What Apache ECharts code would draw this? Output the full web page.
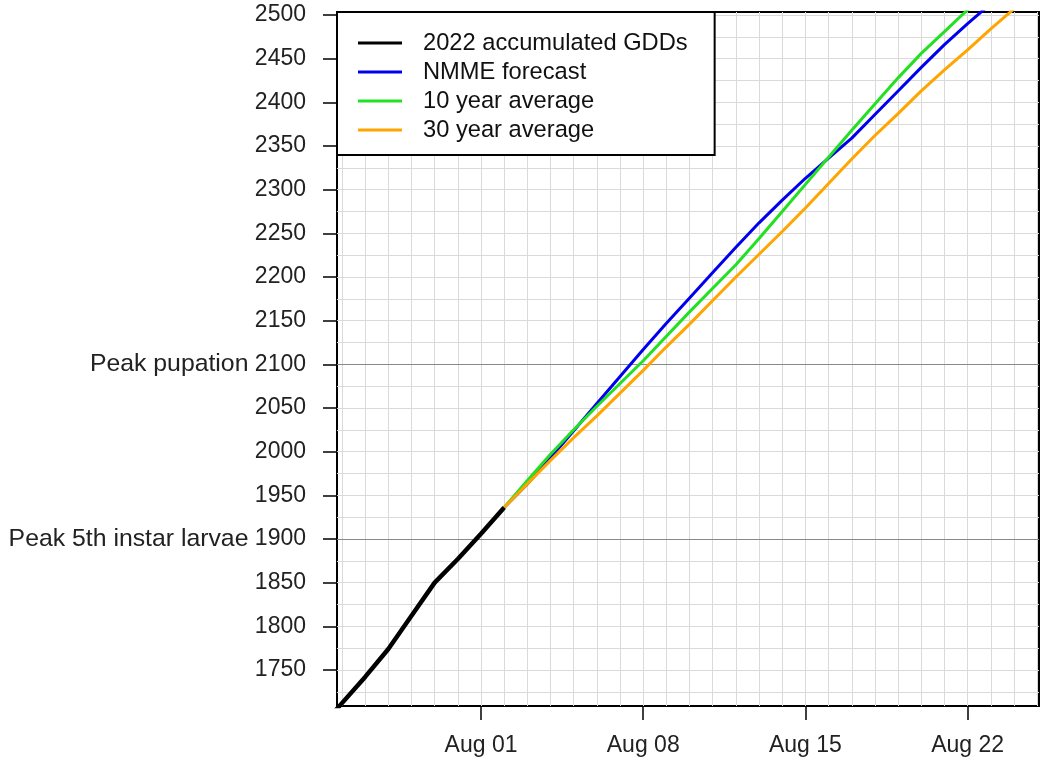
<!DOCTYPE html>
<html><head><meta charset="utf-8">
<script src="https://cdn.jsdelivr.net/npm/echarts@6/dist/echarts.min.js"></script>
<style>html,body{margin:0;padding:0;background:#fff}#c{width:1043px;height:765px}</style>
</head><body><div id="c"></div><script>
// ---- data ----
const observedDates = ['Jul 25','Jul 26','Jul 27','Jul 28','Jul 29','Jul 30','Jul 31','Aug 01','Aug 02'];
const observedGDD   = [1682, 1712, 1742, 1774, 1812, 1850, 1877, 1906, 1936];

const forecastDates = ['Aug 02','Aug 03','Aug 04','Aug 05','Aug 06','Aug 07','Aug 08','Aug 09','Aug 10','Aug 11','Aug 12','Aug 13',
                       'Aug 14','Aug 15','Aug 16','Aug 17','Aug 18','Aug 19','Aug 20','Aug 21','Aug 22','Aug 23','Aug 24','Aug 25'];
const nmmeGDD  = [1936,1963,1993,2024,2055,2086,2117,2147,2176,2205,2234,2262,2288,2313,2336,2359,2386,2413,2440,2466,2490,2513,2537,2561];
const avg10GDD = [1936,1967,1997,2025,2052,2078,2104,2132,2160,2187,2214,2244,2275,2306,2337,2368,2398,2428,2456,2481,2506,2532,2558,2584];
const avg30GDD = [1936,1963,1990,2016,2041,2067,2093,2120,2146,2173,2200,2226,2252,2279,2307,2335,2362,2387,2413,2437,2460,2484,2507,2531];

const seriesNames = ['2022 accumulated GDDs','NMME forecast','10 year average','30 year average'];
const seriesColors = ['#000000','#0000ee','#22e022','#ffa500'];

const yTicks = [1750,1800,1850,1900,1950,2000,2050,2100,2150,2200,2250,2300,2350,2400,2450,2500];
const thresholdValues = [1900, 2100];
const thresholdNames  = ['Peak 5th instar larvae', 'Peak pupation'];
const xTickDates = ['Aug 01','Aug 08','Aug 15','Aug 22'];

// ---- helpers ----
const MONTHS = {Jul: 6, Aug: 7};
const ORIGIN = Date.UTC(2022, 7, 1);
function toDay(s){ const p = s.split(' '); return (Date.UTC(2022, MONTHS[p[0]], +p[1]) - ORIGIN) / 86400000; }
function pairs(dates, vals){ return dates.map((d,i)=>[toDay(d), vals[i]]); }

const X_MIN = -6.215, X_MAX = 24.08, Y_MIN = 1708.7, Y_MAX = 2503.4;
const xTickDays = xTickDates.map(toDay);
const xLabelOf = {}; xTickDates.forEach(d => { xLabelOf[toDay(d)] = d; });
const yLabelOf = {}; thresholdValues.forEach((v,i)=>{ yLabelOf[v] = '{n|' + thresholdNames[i] + '} ' + v; });

// light background grid (every day, every 25 GDD)
const gridLines = [];
for (let d = Math.ceil(X_MIN); d <= Math.floor(X_MAX); d++) gridLines.push({xAxis: d});
for (let v = Math.ceil(Y_MIN/25)*25; v <= Y_MAX; v += 25) gridLines.push({yAxis: v});
thresholdValues.forEach(v => gridLines.push({yAxis: v, lineStyle: {color: '#8a8a8a', width: 1.2, type: 'solid'}}));

const FONT = '"Liberation Sans", Arial, sans-serif';
const chart = echarts.init(document.getElementById('c'), null, {renderer: 'canvas'});
chart.setOption({
  animation: false,
  backgroundColor: '#fff',
  grid: {left: 337, right: 4, top: 12, bottom: 59, show: true, borderColor: '#000', borderWidth: 2, backgroundColor: 'transparent'},
  legend: {
    data: seriesNames, orient: 'vertical', left: 337, top: 12, z: 10,
    padding: [19, 27, 13, 21], itemGap: 5, itemWidth: 44, itemHeight: 3, icon: 'rect',
    backgroundColor: '#fff', borderColor: '#000', borderWidth: 2, selectedMode: false,
    textStyle: {fontFamily: FONT, fontSize: 23.7, color: '#111', lineHeight: 24, padding: [0,0,0,16]}
  },
  xAxis: {
    type: 'value', min: X_MIN, max: X_MAX,
    axisLine: {show: true, onZero: false, lineStyle: {color: '#000', width: 2}},
    axisTick: {show: true, customValues: xTickDays, length: 14, lineStyle: {color: '#000', width: 1.5}},
    axisLabel: {customValues: xTickDays, formatter: v => xLabelOf[Math.round(v)] || '', margin: 28,
                fontFamily: FONT, fontSize: 23, color: '#222'},
    splitLine: {show: false}
  },
  yAxis: {
    type: 'value', min: Y_MIN, max: Y_MAX,
    axisLine: {show: true, onZero: false, lineStyle: {color: '#000', width: 2}},
    axisTick: {show: true, customValues: yTicks, length: 14, lineStyle: {color: '#000', width: 1.5}},
    axisLabel: {customValues: yTicks, formatter: v => yLabelOf[Math.round(v)] || String(Math.round(v)), margin: 31,
                fontFamily: FONT, fontSize: 23, color: '#222',
                rich: {n: {fontFamily: FONT, fontSize: 24.8, color: '#222'}}},
    splitLine: {show: false}
  },
  series: [
    {type: 'line', name: '__grid', data: [], z: 1, silent: true,
     markLine: {z: 1, silent: true, symbol: ['none','none'], label: {show: false}, animation: false,
                lineStyle: {color: '#dadada', width: 1, type: 'solid'}, emphasis: {disabled: true}, data: gridLines}},
    {type: 'line', name: seriesNames[1], data: pairs(forecastDates, nmmeGDD), z: 2, showSymbol: false,
     lineStyle: {color: seriesColors[1], width: 3}, itemStyle: {color: seriesColors[1]}},
    {type: 'line', name: seriesNames[2], data: pairs(forecastDates, avg10GDD), z: 3, showSymbol: false,
     lineStyle: {color: seriesColors[2], width: 3}, itemStyle: {color: seriesColors[2]}},
    {type: 'line', name: seriesNames[3], data: pairs(forecastDates, avg30GDD), z: 4, showSymbol: false,
     lineStyle: {color: seriesColors[3], width: 3}, itemStyle: {color: seriesColors[3]}},
    {type: 'line', name: seriesNames[0], data: pairs(observedDates, observedGDD), z: 5, showSymbol: false,
     lineStyle: {color: seriesColors[0], width: 4.5}, itemStyle: {color: seriesColors[0]}}
  ]
});
</script></body></html>
